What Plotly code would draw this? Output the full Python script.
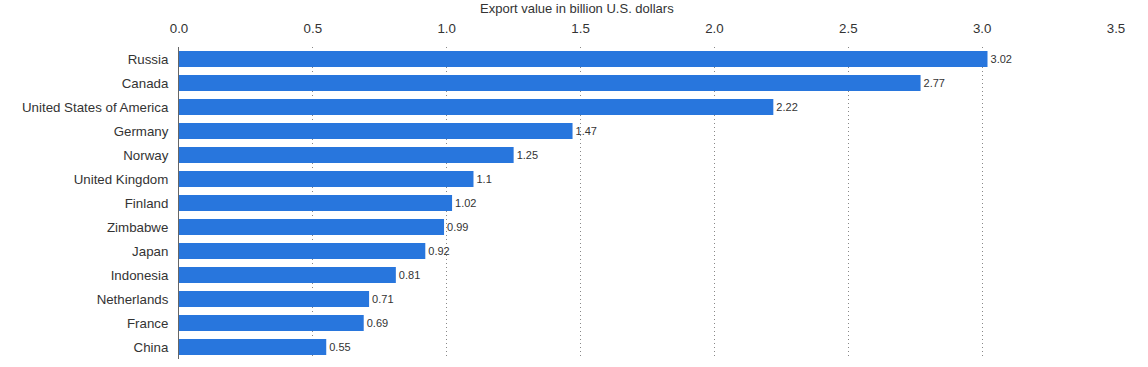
import plotly.graph_objects as go

countries = ["Russia", "Canada", "United States of America", "Germany", "Norway",
             "United Kingdom", "Finland", "Zimbabwe", "Japan", "Indonesia",
             "Netherlands", "France", "China"]
values = [3.02, 2.77, 2.22, 1.47, 1.25, 1.1, 1.02, 0.99, 0.92, 0.81, 0.71, 0.69, 0.55]
tick_vals = [0.0, 0.5, 1.0, 1.5, 2.0, 2.5, 3.0, 3.5]
tick_text = ["0.0", "0.5", "1.0", "1.5", "2.0", "2.5", "3.0", "3.5"]
axis_title = "Export value in billion U.S. dollars"

fig = go.Figure(go.Bar(
    x=values, y=countries, orientation="h",
    marker=dict(color="#2876dd", line=dict(width=0)),
    width=0.67,
    text=[str(v) for v in values], textposition="outside",
    textfont=dict(size=11, color="#333333", family="Liberation Sans, Arial"),
    cliponaxis=False,
))

fig.update_layout(
    width=1148, height=367,
    margin=dict(l=179, r=32, t=47, b=8),
    paper_bgcolor="white", plot_bgcolor="white",
    font=dict(family="Liberation Sans, Arial", color="#333333", size=13),
    showlegend=False,
    bargap=0.33,
    xaxis=dict(
        side="top", range=[0, 3.5], tickvals=tick_vals, ticktext=tick_text,
        showgrid=True, gridcolor="#888888", griddash="1px,3px", gridwidth=1,
        zeroline=False, showline=False, ticks="", automargin=False,
        ticklabelstandoff=10,
        tickfont=dict(size=13.3, color="#333333"),
    ),
    yaxis=dict(
        autorange="reversed", showgrid=False, zeroline=False, automargin=False,
        showline=True, linecolor="#666666", linewidth=1, ticks="",
        ticklabelstandoff=7,
        tickfont=dict(size=13.3, color="#333333"),
    ),
    annotations=[dict(
        text=axis_title, xref="paper", yref="paper", x=0.425, y=1,
        xanchor="center", yanchor="middle", yshift=39, showarrow=False,
        font=dict(size=13, color="#333333"),
    )],
)

fig.write_html("out.html", config={"displayModeBar": False},
               post_script="document.body.style.margin='0';")
